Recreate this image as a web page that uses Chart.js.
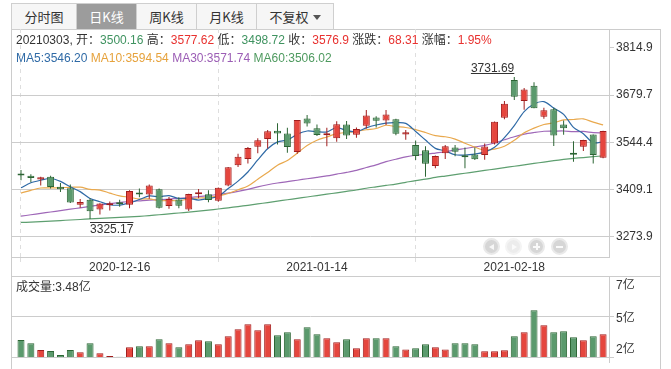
<!DOCTYPE html>
<html><head><meta charset="utf-8">
<script src="https://cdn.jsdelivr.net/npm/chart.js@4.4.1/dist/chart.umd.min.js"></script>
<style>
html,body{margin:0;padding:0;background:#fff;width:671px;height:369px;overflow:hidden;}
body{font-family:"Liberation Sans",Arial,"Noto Sans CJK SC",sans-serif;color:#333;}
#wrap{position:relative;width:671px;height:369px;}
.ln{position:absolute;background:#cccccc;}
.tab{position:absolute;top:3px;height:27px;box-sizing:border-box;border:1px solid #cfcfcf;background:#f6f6f6;color:#333;font-size:13px;line-height:25px;text-align:center;font-family:"Noto Sans CJK SC",sans-serif;}
.tab.on{background:#9c9c9c;color:#fff;}
.arr{display:inline-block;width:0;height:0;border-left:4px solid transparent;border-right:4px solid transparent;border-top:5px solid #555;margin-left:4px;vertical-align:middle;position:relative;top:-1px;}
canvas{position:absolute;left:0;}
.txt{position:absolute;font-size:12px;line-height:16px;white-space:nowrap;}
.nb{position:absolute;top:238px;width:17px;height:17px;box-sizing:border-box;border-radius:50%;background:#d6d6d6;border:2px solid #e9e9e9;}
.nb.off{background:#ececec;border-color:#f4f4f4;}
.tl{position:absolute;left:4px;top:3.5px;width:0;height:0;border-top:3.5px solid transparent;border-bottom:3.5px solid transparent;border-right:5px solid #f7f7f7;}
.tr{position:absolute;left:5px;top:3.5px;width:0;height:0;border-top:3.5px solid transparent;border-bottom:3.5px solid transparent;border-left:5px solid #fafafa;}
.hb{position:absolute;left:3px;top:5.5px;width:7px;height:2px;background:#fafafa;}
.vb{position:absolute;left:5.5px;top:3px;width:2px;height:7px;background:#fafafa;}
</style>
</head>
<body>
<div id="wrap">
  <div class="ln" style="left:11px;top:29px;width:650px;height:1px;"></div>
  <div class="ln" style="left:11px;top:29px;width:1px;height:340px;"></div>
  <div class="ln" style="left:660px;top:29px;width:1px;height:340px;"></div>
  <div class="ln" style="left:11px;top:276px;width:650px;height:1px;"></div>
  <div class="ln" style="left:609px;top:357px;width:1px;height:6px;"></div>

  <div class="tab" style="left:11px;width:66px;">分时图</div>
  <div class="tab on" style="left:76px;width:61px;">日K线</div>
  <div class="tab" style="left:136px;width:61px;">周K线</div>
  <div class="tab" style="left:196px;width:61px;">月K线</div>
  <div class="tab" style="left:256px;width:78px;">不复权<span class="arr"></span></div>

  <canvas id="pc" width="671" height="247" style="top:29px;"></canvas>
  <canvas id="vc" width="671" height="93" style="top:276px;"></canvas>

  <div id="info" class="txt" style="left:16px;top:32px;"></div>
  <div id="mal" class="txt" style="left:16px;top:50px;"></div>
  <div id="voll" class="txt" style="left:16px;top:279px;"></div>

  <div class="nb" style="left:483px;"><div class="tl"></div></div>
  <div class="nb off" style="left:505px;"><div class="tr"></div></div>
  <div class="nb" style="left:528px;"><div class="hb"></div><div class="vb"></div></div>
  <div class="nb" style="left:551px;"><div class="hb"></div></div>
</div>
<script>
// ---------------- data ----------------
const dates = ['2020-12-02','2020-12-03','2020-12-04','2020-12-07','2020-12-08','2020-12-09','2020-12-10','2020-12-11','2020-12-14','2020-12-15',
'2020-12-16','2020-12-17','2020-12-18','2020-12-21','2020-12-22','2020-12-23','2020-12-24','2020-12-25','2020-12-28','2020-12-29',
'2020-12-30','2020-12-31','2021-01-04','2021-01-05','2021-01-06','2021-01-07','2021-01-08','2021-01-11','2021-01-12','2021-01-13',
'2021-01-14','2021-01-15','2021-01-18','2021-01-19','2021-01-20','2021-01-21','2021-01-22','2021-01-25','2021-01-26','2021-01-27',
'2021-01-28','2021-01-29','2021-02-01','2021-02-02','2021-02-03','2021-02-04','2021-02-05','2021-02-08','2021-02-09','2021-02-10',
'2021-02-18','2021-02-19','2021-02-22','2021-02-23','2021-02-24','2021-02-25','2021-02-26','2021-03-01','2021-03-02','2021-03-03'];

const opens = [3452,3449,3438,3446,3417,3413,3366,3380,3352,3364,
3372,3366,3399,3395,3410,3362,3381,3352,3396,3396,
3377,3421,3479,3497,3532,3554,3578,3570,3517,3613,
3585,3565,3556,3596,3566,3592,3616,3607,3611,3567,
3537,3522,3477,3513,3530,3507,3510,3508,3541,3615,
3723,3663,3707,3618,3639,3596,3514,3532,3567,3500.16];

const highs = [3465,3453,3446,3449,3428,3424,3382,3384,3370,3375,
3380,3407,3412,3424,3412,3388,3387,3397,3411,3407,
3415,3474,3512,3531,3556,3580,3599,3586,3608,3623,
3596,3586,3605,3606,3587,3637,3619,3637,3612,3580,
3550,3533,3507,3537,3537,3530,3530,3541,3604,3663,
3731.69,3700,3717,3644,3644,3607,3548,3552,3567,3577.62];

const lows = [3436,3430,3421,3412,3402,3371,3357,3325.17,3338,3349,
3360,3356,3387,3383,3355,3354,3356,3348,3384,3373,
3374,3419,3474,3484,3513,3527,3538,3515,3512,3590,
3563,3533,3546,3554,3558,3584,3587,3594,3565,3552,
3494,3446,3470,3497,3505,3470,3494,3495,3538,3611,
3666,3638,3642,3612,3534,3566,3489,3520,3484,3498.72];

const closes = [3449.38,3442.14,3444.58,3416.60,3410.18,3371.96,3373.28,3347.19,3369.12,3367.23,
3366.98,3404.87,3394.90,3420.57,3356.78,3382.32,3363.11,3396.56,3397.29,3379.04,
3414.45,3473.07,3502.96,3528.68,3550.88,3576.20,3570.11,3531.50,3608.34,3598.65,
3565.90,3566.38,3596.22,3563.87,3583.09,3621.26,3606.75,3624.24,3569.43,3573.34,
3505.18,3483.07,3505.28,3533.68,3517.31,3501.86,3496.33,3532.44,3603.49,3655.09,
3675.36,3696.17,3642.44,3636.36,3564.08,3585.05,3509.08,3551.40,3508.59,3576.90];

// 成交量 (亿)
const volumes = [3.12,2.91,2.49,2.43,2.18,2.49,2.35,2.91,2.28,2.11,
2.07,2.66,2.72,2.72,3.16,2.91,2.66,2.85,3.10,3.04,
2.85,3.35,3.79,4.11,3.73,4.11,3.42,3.61,3.16,3.92,
3.48,3.23,2.98,3.16,2.60,3.23,3.23,3.23,2.72,2.53,
2.60,2.85,2.66,2.53,2.91,2.91,2.85,2.41,2.41,2.47,
3.35,3.61,4.99,4.05,3.61,3.67,3.29,3.10,3.35,3.48];

const ma5 = [3414.22,3428.71,3435.96,3440.93,3432.58,3417.09,3403.32,3383.84,3374.35,3365.76,
3364.76,3371.08,3380.62,3390.91,3388.82,3391.89,3383.54,3383.87,3379.21,3383.66,
3390.09,3412.08,3433.36,3459.64,3494.01,3526.36,3545.77,3551.47,3567.41,3576.96,
3574.90,3574.15,3587.10,3578.20,3575.09,3586.16,3594.24,3599.84,3600.95,3599.00,
3575.79,3551.05,3527.26,3520.11,3508.90,3508.24,3510.89,3516.32,3530.29,3557.84,
3592.54,3632.51,3654.51,3661.08,3642.88,3624.82,3587.40,3569.19,3543.64,3546.20];

const ma10 = [3399.16,3407.06,3413.75,3413.96,3414.70,3415.66,3416.02,3409.90,3407.64,3399.17,
3390.93,3387.20,3382.23,3382.63,3377.29,3378.33,3377.31,3382.25,3385.06,3386.24,
3390.99,3397.81,3408.62,3419.43,3438.84,3458.23,3478.93,3492.42,3513.53,3535.49,
3550.63,3559.96,3569.29,3572.81,3576.03,3580.53,3584.20,3593.47,3589.58,3587.05,
3580.98,3572.65,3563.55,3560.53,3553.95,3542.02,3530.97,3521.79,3525.20,3533.37,
3550.39,3571.70,3585.42,3595.69,3600.36,3608.68,3609.96,3611.85,3602.36,3594.54];

const ma30 = [3333,3337,3341,3345,3349,3353,3357,3361,3365,3369,
3372,3375,3377,3379,3380,3382,3384,3386,3389,3392,
3395,3399,3404,3410,3417,3423,3428,3432,3436,3440.30,
3444.18,3448.32,3453.38,3458.29,3464.05,3472.36,3480.14,3489.38,3496.05,3502.92,
3507.53,3510.14,3513.82,3517.59,3522.94,3526.92,3531.36,3535.89,3542.77,3551.97,
3560.67,3568.10,3572.75,3576.34,3576.78,3577.08,3575.04,3575.70,3572.38,3571.74];

const ma60 = [3315,3316,3317.5,3319,3320.5,3322,3323.5,3325,3326.5,3328,
3329.5,3331,3332.5,3334.5,3337,3339.5,3342,3344.5,3347.5,3350.5,
3353.5,3357,3360.5,3364,3368,3372,3376,3380,3384,3388,
3392,3396,3400,3404,3408,3413,3417,3421,3425,3430,
3435,3439,3444,3448,3452,3456,3460,3464,3468,3472,
3476,3480,3484,3488,3492,3495.5,3498.5,3501,3503.5,3506.02];

const priceTicks = [3814.9, 3679.7, 3544.4, 3409.1, 3273.9];
const volTicks = [2.05, 4.6, 7.15];
const dateTicks = ['2020-12-16', '2021-01-14', '2021-02-18'];

// ---------------- styling ----------------
const RED_FILL = '#e5463e', RED_LINE = '#a11c1c';
const GRN_FILL = '#5b9a6d', GRN_LINE = '#2c6534';
const RED_TXT = '#e8312f', GRN_TXT = '#3f9360';
const C_MA5 = '#2f6aa6', C_MA10 = '#e9a94e', C_MA30 = '#9f68b8', C_MA60 = '#5e9f70';
const FONT = '"Liberation Sans", Arial, "Noto Sans CJK SC", sans-serif';
Chart.defaults.font.family = FONT;
Chart.defaults.font.size = 12;
Chart.defaults.color = '#333';

const N = dates.length;
const isUp = closes.map((c, i) => c >= opens[i]);
const fills = isUp.map(u => u ? RED_FILL : GRN_FILL);
const edges = isUp.map(u => u ? RED_LINE : GRN_LINE);
const X_MIN = -0.912, X_MAX = N - 0.4;

// ---------------- header texts ----------------
const L = N - 1;
const fmt = v => String(+v.toFixed(2));
const col = (v, ref) => v >= ref ? RED_TXT : GRN_TXT;
const chg = closes[L] - closes[L - 1];
const pct = chg / closes[L - 1] * 100;
const sp = (c, t) => '<span style="color:' + c + '">' + t + '</span>';
document.getElementById('info').innerHTML =
  dates[L].replace(/-/g, '') + ', 开：' + sp(col(opens[L], closes[L - 1]), fmt(opens[L])) +
  ' 高：' + sp(col(highs[L], closes[L - 1]), fmt(highs[L])) +
  ' 低：' + sp(col(lows[L], closes[L - 1]), fmt(lows[L])) +
  ' 收：' + sp(col(closes[L], closes[L - 1]), fmt(closes[L])) +
  ' 涨跌：' + sp(col(chg, 0), chg.toFixed(2)) +
  ' 涨幅：' + sp(col(chg, 0), pct.toFixed(2) + '%');
document.getElementById('mal').innerHTML =
  sp(C_MA5, 'MA5:' + ma5[L].toFixed(2)) + ' ' + sp('#e6a23c', 'MA10:' + ma10[L].toFixed(2)) + ' ' +
  sp('#9b5db5', 'MA30:' + ma30[L].toFixed(2)) + ' ' + sp('#4e9a5f', 'MA60:' + ma60[L].toFixed(2));
document.getElementById('voll').textContent = '成交量:' + volumes[L].toFixed(2) + '亿';

// ---------------- plugins ----------------
const hiLo = {
  id: 'hiLo',
  afterDatasetsDraw(chart) {
    const {ctx, scales: {x, y}} = chart;
    let hi = 0, lo = 0;
    highs.forEach((v, i) => { if (v > highs[hi]) hi = i; });
    lows.forEach((v, i) => { if (v < lows[lo]) lo = i; });
    ctx.save();
    ctx.font = '12px ' + FONT;
    ctx.fillStyle = '#333'; ctx.strokeStyle = '#333'; ctx.lineWidth = 1;
    const xh = x.getPixelForValue(hi), yh = y.getPixelForValue(highs[hi]);
    const th = highs[hi].toFixed(2), wh = ctx.measureText(th).width;
    ctx.textAlign = 'right'; ctx.textBaseline = 'middle';
    ctx.fillText(th, xh, yh - 8.5);
    let ly = Math.round(yh - 4) + 0.5;
    ctx.beginPath(); ctx.moveTo(xh - wh, ly); ctx.lineTo(xh, ly); ctx.stroke();
    const xl = x.getPixelForValue(lo), yl = y.getPixelForValue(lows[lo]);
    const tl = lows[lo].toFixed(2), wl = ctx.measureText(tl).width;
    ctx.textAlign = 'left';
    ctx.fillText(tl, xl, yl + 11);
    ly = Math.round(yl + 3) + 0.5;
    ctx.beginPath(); ctx.moveTo(xl, ly); ctx.lineTo(xl + wl, ly); ctx.stroke();
    ctx.restore();
  }
};

const volLabels = {
  id: 'volLabels',
  afterDraw(chart) {
    const {ctx, scales: {y}} = chart;
    ctx.save();
    ctx.font = '12px ' + FONT;
    ctx.fillStyle = '#333';
    ctx.textAlign = 'left';
    const x0 = chart.chartArea.right + 7;
    volTicks.forEach((v, i) => {
      const py = y.getPixelForValue(v);
      const t = Math.round(v) + '亿';
      if (i === 0) { ctx.textBaseline = 'bottom'; ctx.fillText(t, x0, py - 1); }
      else if (i === volTicks.length - 1) { ctx.textBaseline = 'top'; ctx.fillText(t, x0, py + 4); }
      else { ctx.textBaseline = 'middle'; ctx.fillText(t, x0, py + 2); }
    });
    ctx.restore();
  }
};

const noPad = s => { s.paddingTop = 0; s.paddingBottom = 0; s.paddingLeft = 0; s.paddingRight = 0; };

// ---------------- price chart ----------------
const maSet = (data, color, order) => ({
  type: 'line',
  data: data.map((v, i) => ({x: i, y: v})),
  borderColor: color, borderWidth: 1.2, pointRadius: 0, tension: 0.3, order
});

new Chart(document.getElementById('pc'), {
  type: 'bar',
  data: {
    datasets: [
      {type: 'bar', data: dates.map((d, i) => ({x: i, y: [opens[i], closes[i]]})),
       backgroundColor: fills, borderColor: edges, borderWidth: 1, borderSkipped: false,
       barThickness: 7, minBarLength: 2, grouped: false, inflateAmount: 0, order: 1},
      {type: 'bar', data: dates.map((d, i) => ({x: i, y: [lows[i], highs[i]]})),
       backgroundColor: edges, borderWidth: 0, barThickness: 1, grouped: false, inflateAmount: 0, order: 2},
      maSet(ma5, C_MA5, 3),
      maSet(ma10, C_MA10, 4),
      maSet(ma30, C_MA30, 5),
      maSet(ma60, C_MA60, 6)
    ]
  },
  options: {
    responsive: false, animation: false, devicePixelRatio: 1,
    layout: {padding: {left: 12, top: 0, right: 0, bottom: 0}},
    plugins: {legend: {display: false}, tooltip: {enabled: false}},
    scales: {
      x: {
        type: 'linear', min: X_MIN, max: X_MAX, offset: false,
        afterBuildTicks: s => { s.ticks = dateTicks.map(d => ({value: dates.indexOf(d)})); },
        afterFit: s => { s.height = 19; noPad(s); },
        ticks: {autoSkip: false, maxRotation: 0, padding: -2, color: '#333', font: {size: 12},
                callback: v => dates[v]},
        grid: {color: '#dedede', tickColor: '#dedede', tickLength: 5, tickBorderDash: [4, 4]},
        border: {display: true, color: '#cccccc', dash: [4, 4]}
      },
      y: {
        type: 'linear', position: 'right', min: 3216.0, max: 3869.3,
        afterBuildTicks: s => { s.ticks = priceTicks.map(v => ({value: v})); },
        afterFit: s => { s.width = 62; noPad(s); },
        ticks: {padding: 2, color: '#333', font: {size: 12}, callback: v => v.toFixed(1)},
        grid: {color: c => (c.tick && c.tick.value === priceTicks[0]) ? 'rgba(0,0,0,0)' : '#cccccc',
               tickColor: '#cccccc', tickLength: 5},
        border: {display: true, color: '#cccccc'}
      }
    }
  },
  plugins: [hiLo]
});

// ---------------- volume chart ----------------
new Chart(document.getElementById('vc'), {
  type: 'bar',
  data: {
    datasets: [{
      data: volumes.map((v, i) => ({x: i, y: v})),
      backgroundColor: fills, borderColor: edges, borderWidth: 1, borderSkipped: false,
      barThickness: 7, inflateAmount: 0
    }]
  },
  options: {
    responsive: false, animation: false, devicePixelRatio: 1,
    layout: {padding: {left: 12, top: 0, right: 0, bottom: 12}},
    plugins: {legend: {display: false}, tooltip: {enabled: false}},
    scales: {
      x: {type: 'linear', min: X_MIN, max: X_MAX, offset: false, display: false},
      y: {
        type: 'linear', position: 'right', min: volTicks[0], max: volTicks[volTicks.length - 1],
        afterBuildTicks: s => { s.ticks = volTicks.map(v => ({value: v})); },
        afterFit: s => { s.width = 62; noPad(s); },
        ticks: {padding: 2, callback: () => ''},
        grid: {color: '#cccccc', tickColor: '#cccccc', tickLength: 5},
        border: {display: true, color: '#cccccc'}
      }
    }
  },
  plugins: [volLabels]
});
</script>
</body></html>
